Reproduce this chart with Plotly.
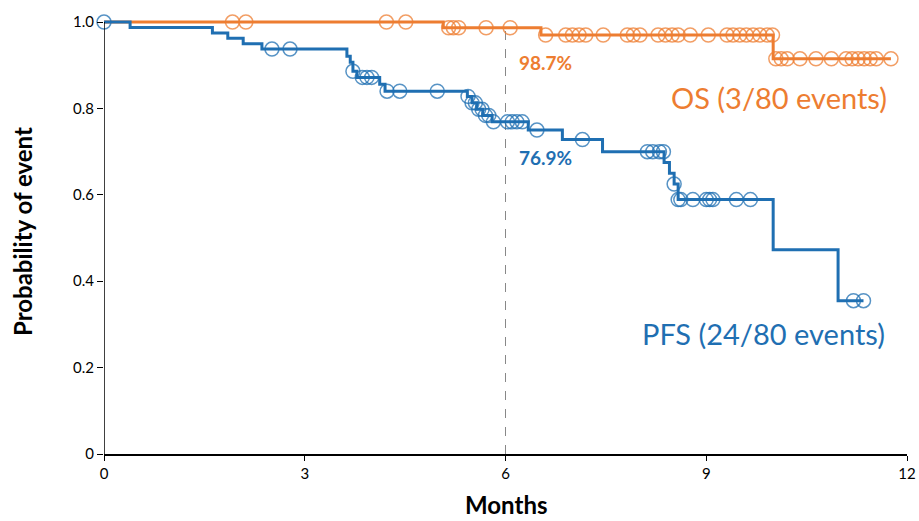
import plotly.graph_objects as go
import numpy as np

# ---- data ----
pfs_step_t = [0, 0.39, 1.62, 1.85, 2.08, 2.36, 3.63, 3.68, 3.72, 3.78, 4.12, 4.20,
              5.43, 5.50, 5.57, 5.66, 5.80, 6.34, 6.85, 7.45, 8.37, 8.45, 8.52, 8.58,
              10.0, 10.97]
pfs_step_s = [1.0, 0.9875, 0.975, 0.9625, 0.95, 0.9375, 0.921, 0.907, 0.886, 0.872, 0.856, 0.840,
              0.828, 0.813, 0.798, 0.784, 0.769, 0.750, 0.728, 0.700, 0.675, 0.650, 0.625, 0.589,
              0.473, 0.355]
pfs_end = 11.35
pfs_censor = [0, 2.51, 2.78, 3.72, 3.86, 3.93, 4.0, 4.23, 4.42, 4.98, 5.44, 5.5, 5.55, 5.6,
              5.65, 5.7, 5.75, 5.82, 6.03, 6.1, 6.17, 6.25, 6.47, 7.15, 8.12, 8.2, 8.3, 8.36,
              8.52, 8.58, 8.62, 8.8, 9.0, 9.05, 9.1, 9.45, 9.66, 11.2, 11.35]

os_step_t = [0, 5.07, 6.53, 10.0]
os_step_s = [1.0, 0.987, 0.970, 0.915]
os_end = 11.76
os_censor = [1.92, 2.12, 4.22, 4.51, 5.15, 5.22, 5.3, 5.71, 6.07, 6.6, 6.9, 7.0, 7.1, 7.2,
             7.46, 7.82, 7.91, 8.01, 8.28, 8.39, 8.49, 8.58, 8.76, 9.03, 9.31, 9.4, 9.5, 9.6,
             9.7, 9.8, 9.91, 9.99, 10.04, 10.12, 10.21, 10.4, 10.64, 10.87, 11.09, 11.18,
             11.27, 11.36, 11.45, 11.54, 11.76]

x_ticks = [0, 3, 6, 9, 12]
y_ticks = [0, 0.2, 0.4, 0.6, 0.8, 1.0]
y_tick_labels = ["0", "0.2", "0.4", "0.6", "0.8", "1.0"]

BLUE = "#1F6FB2"
ORANGE = "#ED7D31"
FONT = "Lato"


def step_at(ts, ss, t):
    idx = np.searchsorted(ts, t, side="right") - 1
    return ss[max(idx, 0)]


fig = go.Figure()


def add_curve(ts, ss, end, censor, color):
    xs = list(ts) + [end]
    ys = list(ss) + [ss[-1]]
    fig.add_trace(go.Scatter(x=xs, y=ys, mode="lines", line=dict(color=color, width=3, shape="hv"),
                             showlegend=False, hoverinfo="skip", cliponaxis=False))
    cy = [step_at(ts, ss, c) for c in censor]
    fig.add_trace(go.Scatter(x=censor, y=cy, mode="markers",
                             marker=dict(symbol="circle-open", size=14, color=color,
                                         line=dict(color=color, width=1.5), opacity=0.75),
                             showlegend=False, cliponaxis=False))


add_curve(os_step_t, os_step_s, os_end, os_censor, ORANGE)
add_curve(pfs_step_t, pfs_step_s, pfs_end, pfs_censor, BLUE)

fig.add_shape(type="line", x0=6, x1=6, y0=0, y1=0.985, xref="x", yref="y",
              line=dict(color="#888888", width=1, dash="dash"), layer="below")
# y axis line drawn only up to 1.0
fig.add_shape(type="line", x0=0, x1=0, y0=0, y1=1.0, xref="x", yref="y",
              line=dict(color="black", width=1.5))

fig.add_annotation(x=6.6, y=0.907, text="<b>98.7%</b>", showarrow=False, xanchor="center",
                   font=dict(family=FONT, size=19, color=ORANGE))
fig.add_annotation(x=6.6, y=0.687, text="<b>76.9%</b>", showarrow=False, xanchor="center",
                   font=dict(family=FONT, size=19, color=BLUE))
fig.add_annotation(x=10.08, y=0.826, text="OS (3/80 events)", showarrow=False, xanchor="center",
                   font=dict(family=FONT, size=29, color=ORANGE))
fig.add_annotation(x=9.85, y=0.280, text="PFS (24/80 events)", showarrow=False, xanchor="center",
                   font=dict(family=FONT, size=29, color=BLUE))

# axis titles
fig.add_annotation(xref="paper", yref="paper", x=0, y=0.5, xshift=-82, textangle=-90,
                   xanchor="center", yanchor="middle",
                   text="<b>Probability of event</b>", showarrow=False,
                   font=dict(family=FONT, size=24, color="black"))
fig.add_annotation(xref="paper", yref="paper", x=0.5, y=0, yshift=-66,
                   xanchor="center", yanchor="bottom", borderpad=0,
                   text="<b>Months</b>", showarrow=False,
                   font=dict(family=FONT, size=24, color="black"))

fig.update_layout(
    width=919, height=521,
    margin=dict(l=104, r=12, t=10, b=67),
    plot_bgcolor="white", paper_bgcolor="white",
    font=dict(family=FONT, size=15, color="black"),
    xaxis=dict(range=[0, 12], tickvals=x_ticks, showgrid=False, zeroline=False,
               showline=True, linecolor="black", linewidth=1.5, ticks="outside",
               ticklen=5, tickcolor="black", automargin=False, tickfont=dict(size=15)),
    yaxis=dict(range=[0, 1.028], tickvals=y_ticks, ticktext=y_tick_labels, showgrid=False,
               zeroline=False, showline=False,
               ticks="outside", ticklen=6, tickcolor="black", automargin=False,
               tickfont=dict(size=15)),
)

fig.write_html("out.html", config={"displayModeBar": False},
               post_script="document.body.style.margin='0';document.body.style.overflow='hidden';")
